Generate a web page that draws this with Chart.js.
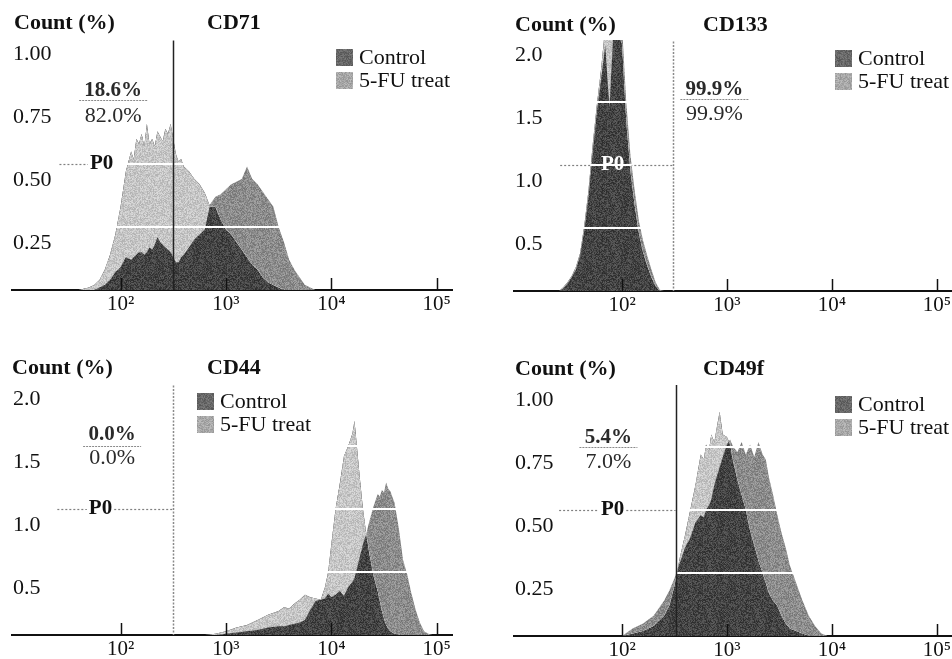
<!DOCTYPE html>
<html lang="en">
<head>
<meta charset="UTF-8">
<title>CD71 / CD133 / CD44 / CD49f – Control vs 5-FU</title>
<script src="https://cdn.jsdelivr.net/npm/chart.js@4"></script>
<style>
  body { margin: 0; background: #fff; }
  #wrap { position: relative; width: 952px; height: 659px; overflow: hidden; }
  #wrap canvas { position: absolute; }
</style>
</head>
<body>
<div id="wrap">
  <canvas id="cd71"  width="476" height="320" style="left:0;top:0"></canvas>
  <canvas id="cd133" width="476" height="320" style="left:476px;top:0"></canvas>
  <canvas id="cd44"  width="476" height="339" style="left:0;top:320px"></canvas>
  <canvas id="cd49f" width="476" height="339" style="left:476px;top:320px"></canvas>
</div>
<script>
// ---- data (x = log10 fluorescence, y = count %) ----
const seriesLabels = ['Control', '5-FU treat'];
const decadeTicks = [2, 3, 4, 5];
const decadeLabels = ['10²', '10³', '10⁴', '10⁵'];

const cd71Ticks = [0.25, 0.5, 0.75, 1.0];
const cd71Log = [1.60, 1.70, 1.75, 1.80, 1.85, 1.90, 1.95, 2.00, 2.05, 2.100,
                 2.125, 2.150, 2.175, 2.200, 2.225, 2.250, 2.275, 2.300, 2.325, 2.350,
                 2.375, 2.400, 2.425, 2.450, 2.475, 2.500, 2.525, 2.550, 2.575, 2.600,
                 2.65, 2.70, 2.75, 2.80, 2.85, 2.90, 2.95, 3.00, 3.05, 3.10,
                 3.15, 3.20, 3.25, 3.30, 3.35, 3.40, 3.45, 3.50, 3.55, 3.60,
                 3.65, 3.70, 3.75, 3.80, 3.85];
const cd71Control = [0.00, 0.00, 0.00, 0.01, 0.02, 0.04, 0.07, 0.09, 0.13, 0.12,
                     0.13, 0.14, 0.15, 0.15, 0.14, 0.15, 0.17, 0.16, 0.18, 0.21,
                     0.19, 0.18, 0.17, 0.16, 0.15, 0.13, 0.11, 0.11, 0.13, 0.14,
                     0.17, 0.20, 0.22, 0.24, 0.34, 0.37, 0.38, 0.40, 0.42, 0.43,
                     0.44, 0.49, 0.44, 0.42, 0.39, 0.36, 0.33, 0.25, 0.19, 0.12,
                     0.08, 0.05, 0.02, 0.01, 0.00];
const cd71Treat = [0.00, 0.01, 0.02, 0.04, 0.08, 0.14, 0.22, 0.33, 0.47, 0.55,
                   0.52, 0.60, 0.58, 0.62, 0.57, 0.66, 0.58, 0.60, 0.57, 0.63,
                   0.61, 0.59, 0.64, 0.62, 0.66, 0.60, 0.54, 0.51, 0.52, 0.49,
                   0.47, 0.44, 0.42, 0.385, 0.33, 0.33, 0.28, 0.24, 0.22, 0.19,
                   0.16, 0.13, 0.10, 0.08, 0.05, 0.03, 0.02, 0.01, 0.00, 0.00,
                   0.00, 0.00, 0.00, 0.00, 0.00];

const cd133Ticks = [0.5, 1.0, 1.5, 2.0];
const cd133Log = [1.40, 1.44, 1.48, 1.52, 1.56, 1.60, 1.64, 1.68, 1.72, 1.76,
                  1.80, 1.84, 1.88, 1.92, 1.96, 2.00, 2.04, 2.08, 2.12, 2.16,
                  2.20, 2.24, 2.28, 2.32, 2.36, 2.40];
const cd133Control = [0.00, 0.02, 0.06, 0.11, 0.17, 0.28, 0.48, 0.75, 1.10, 1.42,
                      1.68, 1.95, 1.45, 2.10, 2.10, 2.10, 1.50, 1.08, 0.80, 0.56,
                      0.40, 0.28, 0.17, 0.07, 0.01, 0.00];
const cd133Treat = [0.00, 0.03, 0.07, 0.12, 0.19, 0.30, 0.52, 0.80, 1.16, 1.48,
                    1.76, 2.10, 2.10, 2.02, 2.06, 1.96, 1.35, 0.95, 0.68, 0.46,
                    0.31, 0.20, 0.11, 0.04, 0.00, 0.00];

const cd44Ticks = [0.5, 1.0, 1.5, 2.0];
const cd44Log = [2.80, 2.90, 3.00, 3.10, 3.20, 3.30, 3.40, 3.50, 3.55, 3.60,
                 3.65, 3.70, 3.75, 3.80, 3.85, 3.90, 3.94, 3.97, 4.00, 4.04,
                 4.08, 4.12, 4.16, 4.20, 4.22, 4.24, 4.27, 4.30, 4.33, 4.36,
                 4.40, 4.44, 4.46, 4.48, 4.50, 4.52, 4.54, 4.56, 4.60, 4.64,
                 4.68, 4.72, 4.76, 4.80, 4.84, 4.88, 4.92, 4.96, 5.00];
const cd44Control = [0.00, 0.00, 0.01, 0.02, 0.03, 0.04, 0.06, 0.07, 0.07, 0.08,
                     0.09, 0.10, 0.12, 0.20, 0.27, 0.28, 0.29, 0.33, 0.30, 0.32,
                     0.35, 0.31, 0.38, 0.42, 0.45, 0.52, 0.62, 0.72, 0.80, 0.90,
                     1.02, 1.12, 1.10, 1.15, 1.13, 1.21, 1.16, 1.14, 1.05, 0.85,
                     0.60, 0.48, 0.33, 0.20, 0.10, 0.03, 0.01, 0.00, 0.00];
const cd44Treat = [0.00, 0.01, 0.03, 0.06, 0.08, 0.12, 0.16, 0.19, 0.22, 0.21,
                   0.25, 0.28, 0.32, 0.30, 0.29, 0.28, 0.38, 0.50, 0.72, 1.00,
                   1.20, 1.42, 1.50, 1.60, 1.70, 1.52, 1.25, 1.00, 0.81, 0.65,
                   0.47, 0.35, 0.27, 0.19, 0.13, 0.08, 0.05, 0.03, 0.01, 0.00,
                   0.00, 0.00, 0.00, 0.00, 0.00, 0.00, 0.00, 0.00, 0.00];

const cd49fTicks = [0.25, 0.5, 0.75, 1.0];
const cd49fLog = [2.00, 2.10, 2.20, 2.30, 2.40, 2.45, 2.50, 2.55, 2.60, 2.65,
                  2.70, 2.75, 2.78, 2.80, 2.83, 2.85, 2.88, 2.90, 2.93, 2.96,
                  3.00, 3.03, 3.06, 3.10, 3.14, 3.18, 3.22, 3.26, 3.30, 3.34,
                  3.37, 3.40, 3.44, 3.48, 3.52, 3.56, 3.60, 3.66, 3.72, 3.78,
                  3.84, 3.90, 3.96];
const cd49fControl = [0.00, 0.03, 0.05, 0.08, 0.14, 0.18, 0.23, 0.29, 0.35, 0.39,
                      0.45, 0.48, 0.47, 0.50, 0.52, 0.54, 0.60, 0.63, 0.67, 0.71,
                      0.76, 0.78, 0.75, 0.73, 0.77, 0.72, 0.76, 0.71, 0.77, 0.72,
                      0.70, 0.63, 0.56, 0.48, 0.41, 0.35, 0.28, 0.21, 0.14, 0.08,
                      0.04, 0.01, 0.00];
const cd49fTreat = [0.00, 0.01, 0.02, 0.04, 0.08, 0.12, 0.20, 0.31, 0.40, 0.50,
                    0.60, 0.72, 0.70, 0.76, 0.74, 0.80, 0.77, 0.82, 0.89, 0.80,
                    0.79, 0.76, 0.69, 0.62, 0.56, 0.50, 0.42, 0.36, 0.30, 0.25,
                    0.21, 0.17, 0.14, 0.12, 0.08, 0.05, 0.03, 0.02, 0.01, 0.00,
                    0.00, 0.00, 0.00];

// ---- look ----
const FONT = '"Liberation Serif", "Times New Roman", serif';

// grainy grey fill, like the scanned halftone
function grain(level, spread) {
  const n = 48;
  const c = document.createElement('canvas');
  c.width = c.height = n;
  const g = c.getContext('2d');
  const img = g.createImageData(n, n);
  let s = 12345 + level;
  for (let i = 0; i < n * n; i++) {
    s = (Math.imul(s, 1103515245) + 12345) >>> 0;
    const v = Math.max(0, Math.min(255, level + ((s >>> 16) % (2 * spread + 1)) - spread));
    img.data[i * 4] = img.data[i * 4 + 1] = img.data[i * 4 + 2] = v;
    img.data[i * 4 + 3] = 255;
  }
  g.putImageData(img, 0, 0);
  return g.createPattern(c, 'repeat');
}
const DARK = grain(0x44, 26);        // both histograms overlap
const MID = grain(0x8c, 26);         // control only
const LIGHT = grain(0xc6, 22);       // 5-FU only
const KEY_CONTROL = grain(0x68, 20);
const KEY_TREAT = grain(0xa8, 20);

// gates, labels and legend drawn on top of the plot
const flowDecor = {
  id: 'flowDecor',
  afterDatasetsDraw(chart, args, o) {
    const { ctx, chartArea: a, scales: { x, y } } = chart;
    ctx.save();
    // white level lines, only visible over the histograms
    ctx.globalCompositeOperation = 'source-atop';
    ctx.strokeStyle = '#fff';
    ctx.lineWidth = 2;
    y.ticks.forEach(t => {
      const py = Math.round(y.getPixelForValue(t.value));
      ctx.beginPath();
      ctx.moveTo(a.left, py);
      ctx.lineTo(a.right, py);
      ctx.stroke();
    });
    // dotted P0 bar, only where nothing is drawn
    ctx.globalCompositeOperation = 'destination-over';
    ctx.strokeStyle = '#808080';
    ctx.lineWidth = 1.2;
    ctx.setLineDash([2, 2]);
    ctx.font = 'bold 21px ' + FONT;
    const w = ctx.measureText('P0').width;
    const py = Math.round(y.getPixelForValue(o.p0.y)) + 0.5;
    const lx = x.getPixelForValue(o.p0.labelX);
    const seg = (x1, x2) => { ctx.beginPath(); ctx.moveTo(x1, py); ctx.lineTo(x2, py); ctx.stroke(); };
    seg(x.getPixelForValue(o.p0.from), lx - w / 2 - 2);
    if (o.p0.right) seg(lx + w / 2 + 2, x.getPixelForValue(o.gate.x));
    ctx.restore();
  },
  afterDraw(chart, args, o) {
    const { ctx, chartArea: a, scales: { x, y } } = chart;
    ctx.save();
    // gate line
    const gx = Math.round(x.getPixelForValue(o.gate.x)) + 0.5;
    ctx.strokeStyle = o.gate.dashed ? '#8a8a8a' : '#222';
    ctx.lineWidth = 1.5;
    ctx.setLineDash(o.gate.dashed ? [2, 1.5] : []);
    ctx.beginPath();
    ctx.moveTo(gx, y.getPixelForValue(o.gate.top));
    ctx.lineTo(gx, a.bottom);
    ctx.stroke();
    ctx.setLineDash([]);

    // inward decade ticks
    ctx.strokeStyle = '#111';
    ctx.lineWidth = 1.5;
    decadeTicks.forEach(v => {
      const px = Math.round(x.getPixelForValue(v)) + 0.5;
      ctx.beginPath();
      ctx.moveTo(px, a.bottom);
      ctx.lineTo(px, a.bottom - 12);
      ctx.stroke();
    });

    ctx.textBaseline = 'middle';
    // P0 label
    ctx.fillStyle = o.p0.color;
    ctx.textAlign = 'center';
    ctx.font = 'bold 21px ' + FONT;
    ctx.fillText('P0', x.getPixelForValue(o.p0.labelX), y.getPixelForValue(o.p0.y));

    // percentages
    const cx = x.getPixelForValue(o.pct.x);
    ctx.fillStyle = '#2a2a2a';
    ctx.font = 'bold 21px ' + FONT;
    ctx.fillText(o.pct.top, cx, y.getPixelForValue(o.pct.yTop));
    ctx.font = '22px ' + FONT;
    ctx.fillText(o.pct.bottom, cx, y.getPixelForValue(o.pct.yBottom));
    const sy = Math.round(y.getPixelForValue(o.pct.ySep)) + 0.5;
    ctx.strokeStyle = '#8a8a8a';
    ctx.lineWidth = 1;
    ctx.setLineDash([2, 1]);
    ctx.beginPath();
    ctx.moveTo(cx - o.pct.half, sy);
    ctx.lineTo(cx + o.pct.half, sy);
    ctx.stroke();
    ctx.setLineDash([]);

    // titles
    ctx.textAlign = 'left';
    ctx.fillStyle = '#111';
    ctx.font = 'bold 22px ' + FONT;
    ctx.fillText('Count (%)', o.countX, o.titleY);
    ctx.fillText(o.title, o.titleX, o.titleY);

    // legend
    ctx.font = '22px ' + FONT;
    chart.data.datasets.forEach((ds, i) => {
      const ly = o.legendY + i * 23;
      ctx.fillStyle = ds.backgroundColor;
      ctx.fillRect(o.legendX, ly, 17, 17);
      ctx.fillStyle = '#111';
      ctx.fillText(ds.label, o.legendX + 23, ly + 9);
    });
    ctx.restore();
  }
};

function histChart(id, logs, control, treat, yTicks, yMax, decimals, layout, decor) {
  const pts = ys => logs.map((v, i) => ({ x: v, y: ys[i] }));
  return new Chart(document.getElementById(id), {
    type: 'line',
    data: {
      datasets: [
        { label: seriesLabels[0], data: pts(control), backgroundColor: KEY_CONTROL,
          borderColor: 'transparent', borderWidth: 0,
          fill: { target: 1, above: MID, below: LIGHT } },
        { label: seriesLabels[1], data: pts(treat), backgroundColor: KEY_TREAT,
          borderColor: 'transparent', borderWidth: 0,
          fill: { target: 'origin', above: DARK, below: DARK } }
      ]
    },
    options: {
      responsive: false,
      animation: false,
      layout: { padding: { left: layout.left, right: layout.right, top: layout.top, bottom: 0 } },
      elements: { point: { radius: 0 }, line: { tension: 0 } },
      plugins: { legend: { display: false }, tooltip: { enabled: false }, flowDecor: decor },
      scales: {
        x: {
          type: 'linear', min: 0.97, max: 5.145, z: 1,
          afterBuildTicks: s => { s.ticks = decadeTicks.map(v => ({ value: v })); },
          afterFit: s => { s.height = layout.xHeight; s.paddingLeft = 0; s.paddingRight = 0; },
          grid: { display: false, drawTicks: false },
          border: { display: true, color: '#111', width: 2 },
          ticks: { padding: 2, maxRotation: 0, autoSkip: false, color: '#111',
                   font: { family: FONT, size: 21 },
                   callback: v => decadeLabels[decadeTicks.indexOf(v)] }
        },
        y: {
          type: 'linear', min: 0, max: yMax,
          afterBuildTicks: s => { s.ticks = yTicks.map(v => ({ value: v })); },
          afterFit: s => { s.width = 0; s.paddingTop = 0; s.paddingBottom = 0; },
          grid: { display: false, drawTicks: false },
          border: { display: false },
          ticks: { mirror: true, padding: 1, labelOffset: 16, color: '#111',
                   font: { family: FONT, size: 22 },
                   callback: v => v.toFixed(decimals) }
        }
      }
    },
    plugins: [flowDecor]
  });
}

histChart('cd71', cd71Log, cd71Control, cd71Treat, cd71Ticks, 1.0, 2,
  { left: 12, right: 24, top: 38, xHeight: 30 },
  { title: 'CD71', countX: 14, titleX: 207, titleY: 23, legendX: 336, legendY: 49,
    gate: { x: 2.5, top: 0.99, dashed: false },
    p0: { y: 0.5, from: 1.42, labelX: 1.82, color: '#111', right: false },
    pct: { x: 1.93, top: '18.6%', bottom: '82.0%', yTop: 0.79, ySep: 0.754, yBottom: 0.69, half: 34 } });

histChart('cd133', cd133Log, cd133Control, cd133Treat, cd133Ticks, 2.0, 1,
  { left: 38, right: 0, top: 39, xHeight: 29 },
  { title: 'CD133', countX: 39, titleX: 227, titleY: 25, legendX: 359, legendY: 50,
    gate: { x: 2.49, top: 1.98, dashed: true },
    p0: { y: 1.0, from: 1.41, labelX: 1.91, color: '#fff', right: true },
    pct: { x: 2.88, top: '99.9%', bottom: '99.9%', yTop: 1.6, ySep: 1.52, yBottom: 1.4, half: 34 } });

histChart('cd44', cd44Log, cd44Control, cd44Treat, cd44Ticks, 2.0, 1,
  { left: 12, right: 24, top: 63, xHeight: 24 },
  { title: 'CD44', countX: 12, titleX: 207, titleY: 48, legendX: 197, legendY: 73,
    gate: { x: 2.5, top: 1.98, dashed: true },
    p0: { y: 1.0, from: 1.4, labelX: 1.81, color: '#111', right: true },
    pct: { x: 1.92, top: '0.0%', bottom: '0.0%', yTop: 1.59, ySep: 1.5, yBottom: 1.4, half: 29 } });

histChart('cd49f', cd49fLog, cd49fControl, cd49fTreat, cd49fTicks, 1.0, 2,
  { left: 38, right: 0, top: 64, xHeight: 23 },
  { title: 'CD49f', countX: 39, titleX: 227, titleY: 49, legendX: 359, legendY: 76,
    gate: { x: 2.51, top: 0.996, dashed: false },
    p0: { y: 0.5, from: 1.4, labelX: 1.91, color: '#111', right: true },
    pct: { x: 1.87, top: '5.4%', bottom: '7.0%', yTop: 0.786, ySep: 0.75, yBottom: 0.69, half: 29 } });
</script>
</body>
</html>
